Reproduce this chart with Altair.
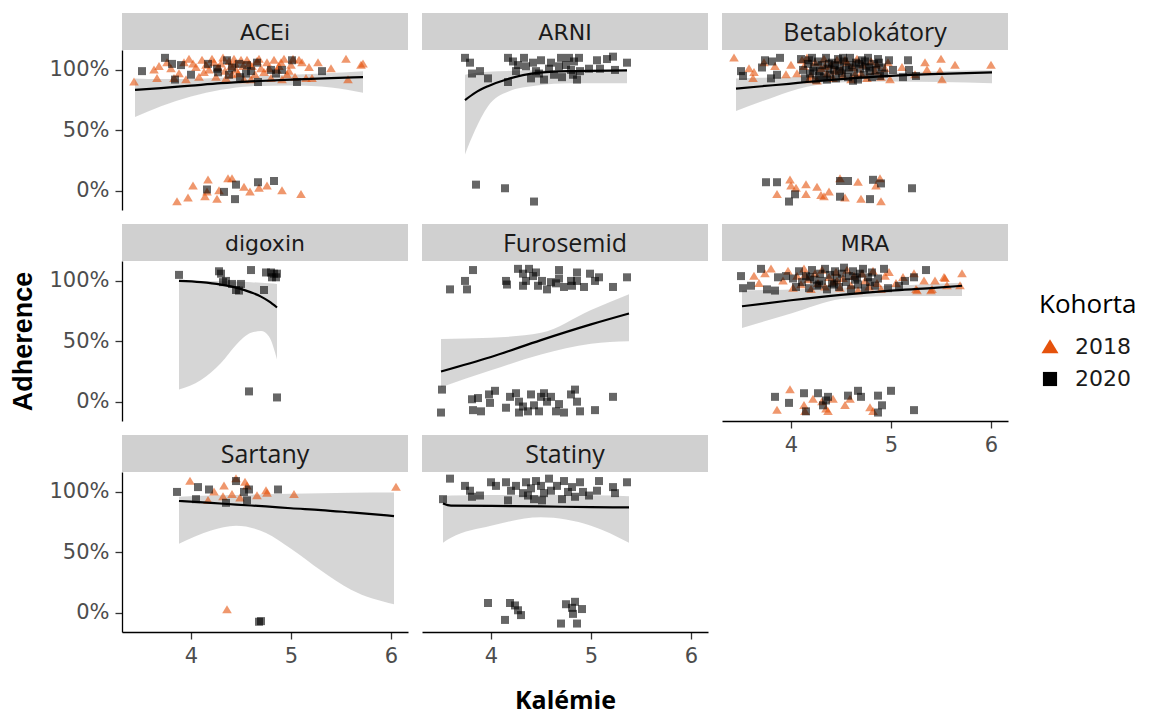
import altair as alt
import pandas as pd

# ---- data: (kalemie, adherence) pairs per drug group and cohort ----
ACEI_2018 = [
    (3.43, 0.90), (3.63, 1.00), (3.66, 0.93), (3.68, 1.03), (3.76, 1.06), (3.83, 0.93), (3.88, 0.97),
    (3.93, 1.06), (3.95, 0.92), (3.98, 1.09), (4.05, 1.02), (4.08, 0.94), (4.11, 1.08), (4.15, 1.04),
    (4.18, 1.00), (4.21, 1.09), (4.25, 0.94), (4.30, 1.05), (4.32, 1.10), (4.35, 0.93), (4.40, 1.03),
    (4.41, 0.96), (4.43, 1.09), (4.45, 1.00), (4.50, 1.08), (4.53, 0.92), (4.56, 1.08), (4.60, 0.92),
    (4.61, 1.03), (4.64, 0.96), (4.68, 1.09), (4.73, 0.98), (4.76, 1.06), (4.80, 0.93), (4.83, 1.08),
    (4.88, 1.03), (4.91, 0.92), (4.93, 1.09), (4.96, 0.96), (5.00, 1.04), (5.04, 0.94), (5.08, 1.08),
    (5.11, 1.06), (5.15, 0.93), (5.21, 0.93), (5.27, 1.06), (5.40, 1.01), (5.55, 1.09), (5.57, 0.92),
    (5.70, 1.04), (5.72, 1.05), (4.02, 1.05), (4.27, 1.02), (4.38, 1.07), (4.47, 0.97), (4.58, 1.05),
    (4.70, 1.01), (4.86, 1.00), (4.98, 0.99), (5.18, 1.02), (4.13, 0.98), (4.23, 1.06), (4.34, 0.99),
    (4.52, 1.03), (4.66, 1.07), (4.78, 1.01), (4.90, 1.06), (5.02, 1.09), (4.44, 1.05), (3.80, 1.01),
    (3.86, -0.09), (3.97, -0.06), (4.02, 0.04), (4.14, -0.05), (4.16, -0.01), (4.17, 0.09),
    (4.26, -0.07), (4.28, 0.00), (4.37, 0.10), (4.41, 0.10), (4.53, 0.03), (4.59, -0.01),
    (4.68, 0.02), (4.76, 0.04), (4.91, 0.00), (5.10, -0.03),
]
ACEI_2020 = [
    (3.51, 0.99), (3.74, 1.10), (3.81, 1.05), (3.90, 1.04), (3.84, 0.92), (4.00, 0.96), (4.17, 1.05),
    (4.26, 1.01), (4.27, 0.98), (4.36, 1.08), (4.38, 0.96), (4.41, 1.02), (4.48, 1.05), (4.49, 0.94),
    (4.55, 0.97), (4.56, 1.04), (4.60, 0.99), (4.66, 1.06), (4.67, 0.90), (4.80, 1.00), (4.85, 0.97),
    (4.91, 1.00), (5.01, 1.08), (5.06, 0.90), (5.31, 0.99),
    (4.16, 0.01), (4.33, -0.01), (4.44, -0.07), (4.45, 0.05), (4.67, 0.07), (4.83, 0.08),
]
ARNI_2018 = []
ARNI_2020 = [
    (3.74, 1.10), (3.79, 1.06), (3.81, 0.97), (3.89, 0.99), (3.97, 0.93), (4.17, 1.10), (4.17, 0.90),
    (4.22, 1.07), (4.25, 0.99), (4.27, 1.04), (4.33, 1.10), (4.35, 1.03), (4.40, 0.93), (4.42, 1.06),
    (4.45, 0.99), (4.48, 0.97), (4.50, 1.08), (4.53, 0.92), (4.58, 1.01), (4.60, 1.06), (4.63, 0.96),
    (4.68, 1.03), (4.70, 1.10), (4.71, 0.94), (4.75, 1.04), (4.78, 1.10), (4.80, 1.00), (4.82, 0.96),
    (4.83, 1.07), (4.86, 0.92), (4.88, 1.10), (4.89, 0.99), (4.98, 1.01), (5.06, 1.08), (5.09, 1.01),
    (5.16, 1.09), (5.22, 1.11), (5.24, 1.00), (5.36, 1.06),
    (3.85, 0.05), (4.14, 0.02), (4.43, -0.09),
]
BETA_2018 = [
    (3.43, 1.10), (3.58, 1.01), (3.62, 0.93), (3.63, 0.98), (3.73, 1.06), (3.84, 1.03), (3.95, 0.96),
    (4.00, 1.04), (4.11, 1.08), (4.18, 0.92), (4.97, 1.06), (4.99, 0.92), (5.11, 1.02), (5.24, 0.96),
    (5.34, 1.06), (5.36, 1.00), (5.50, 1.09), (5.51, 0.92), (5.49, 0.99), (5.64, 1.04), (6.00, 1.04),
    (4.06, 0.97), (4.13, 1.03), (4.16, 1.10), (4.20, 0.95), (4.24, 1.06), (4.26, 0.91), (4.30, 1.01),
    (4.33, 1.09), (4.36, 0.97), (4.40, 1.04), (4.42, 0.93), (4.46, 1.08), (4.50, 1.00), (4.52, 0.95),
    (4.56, 1.06), (4.60, 0.92), (4.62, 1.02), (4.66, 1.09), (4.70, 0.97), (4.72, 1.04), (4.76, 0.93),
    (4.80, 1.07), (4.84, 0.99), (4.86, 1.04), (4.90, 0.94), (4.94, 1.01), (4.34, 1.03), (4.54, 1.08),
    (4.64, 0.96), (4.44, 0.99),
    (3.86, -0.03), (3.99, 0.09), (4.00, 0.04), (4.05, 0.02), (4.15, 0.05), (4.15, -0.03), (4.26, 0.03),
    (4.30, -0.04), (4.33, -0.05), (4.38, -0.01), (4.49, 0.10), (4.54, -0.06), (4.67, 0.07), (4.70, -0.07),
    (4.85, 0.04), (4.89, 0.10), (4.90, -0.09),
]
BETA_2020 = [
    (3.50, 0.99), (3.52, 0.95), (3.71, 1.02), (3.74, 1.08), (3.80, 0.93), (3.81, 1.07), (3.86, 0.96),
    (3.89, 1.10), (4.98, 1.08), (5.02, 1.00), (5.12, 0.94), (5.17, 1.08), (5.18, 1.00), (5.25, 0.95),
    (4.10, 1.09), (4.12, 1.00), (4.14, 0.93), (4.17, 1.05), (4.19, 0.97), (4.21, 1.10), (4.23, 1.02),
    (4.25, 0.92), (4.27, 1.07), (4.29, 0.99), (4.31, 1.04), (4.33, 0.94), (4.35, 1.10), (4.37, 1.01),
    (4.39, 0.96), (4.41, 1.06), (4.43, 1.00), (4.45, 0.93), (4.47, 1.09), (4.49, 1.03), (4.51, 0.97),
    (4.53, 1.07), (4.55, 1.00), (4.57, 0.94), (4.59, 1.10), (4.61, 1.04), (4.63, 0.98), (4.65, 1.06),
    (4.67, 0.92), (4.69, 1.01), (4.71, 1.08), (4.73, 0.96), (4.75, 1.03), (4.77, 1.10), (4.79, 0.99),
    (4.81, 0.94), (4.83, 1.05), (4.85, 1.00), (4.87, 1.09), (4.89, 0.95), (4.91, 1.02), (4.93, 0.97),
    (4.18, 1.08), (4.28, 0.95), (4.38, 1.05), (4.48, 0.99), (4.58, 1.02), (4.68, 1.05), (4.78, 1.02),
    (4.88, 1.06), (4.22, 0.99), (4.44, 1.04), (4.62, 0.91), (4.74, 1.07), (4.52, 1.10), (4.36, 0.92),
    (3.75, 0.07), (3.86, 0.07), (3.98, -0.09), (4.04, -0.03), (4.49, 0.08), (4.57, 0.08), (4.49, -0.05),
    (4.82, 0.09), (4.90, 0.06), (4.79, -0.07), (5.21, 0.02),
]
DIGOXIN_2018 = []
DIGOXIN_2020 = [
    (3.88, 1.05), (4.28, 1.08), (4.30, 1.06), (4.32, 0.99), (4.35, 1.00), (4.41, 0.975), (4.45, 0.925),
    (4.48, 0.92), (4.50, 0.975), (4.60, 1.09), (4.73, 0.925), (4.75, 1.07), (4.80, 1.07), (4.81, 1.03),
    (4.83, 1.06), (4.85, 1.03), (4.86, 1.06), (4.58, 0.085), (4.86, 0.035),
]
FUROSEMID_2018 = []
FUROSEMID_2020 = [
    (3.82, 1.09), (3.59, 0.93), (3.74, 1.00), (3.76, 0.93), (4.15, 1.00), (4.16, 0.97), (4.27, 1.10),
    (4.32, 1.06), (4.38, 1.10), (4.35, 1.00), (4.42, 1.04), (4.47, 0.96), (4.51, 1.00), (4.56, 0.93),
    (4.60, 0.99), (4.68, 1.09), (4.68, 1.02), (4.73, 0.95), (4.80, 1.00), (4.86, 1.07), (4.86, 1.00),
    (4.93, 0.95), (4.99, 1.06), (5.04, 1.00), (5.08, 1.03), (5.22, 0.95), (5.36, 1.03), (4.45, 1.07),
    (4.32, 0.96), (4.81, 0.96), (4.65, 0.98),
    (3.51, 0.10), (3.50, -0.09), (3.81, 0.02), (3.82, -0.07), (3.87, 0.03), (3.90, -0.08), (3.99, -0.01),
    (3.98, 0.06), (4.04, 0.09), (4.15, -0.05), (4.19, 0.04), (4.25, 0.07), (4.28, 0.00), (4.32, -0.04),
    (4.37, -0.08), (4.40, 0.06), (4.43, -0.03), (4.48, -0.08), (4.53, 0.07), (4.56, 0.00), (4.60, 0.04),
    (4.65, -0.08), (4.68, -0.02), (4.73, -0.09), (4.80, 0.06), (4.84, 0.10), (4.86, 0.00), (4.89, -0.08),
    (5.04, -0.07), (5.22, 0.04), (4.28, -0.09), (4.50, 0.04),
]
MRA_2018 = [
    (3.63, 1.04), (3.80, 1.10), (3.68, 0.98), (3.74, 1.06), (5.12, 1.03), (5.23, 1.06), (5.40, 0.92),
    (5.44, 1.00), (5.53, 1.03), (5.56, 0.96), (5.69, 0.96), (5.71, 1.06), (5.26, 0.92), (5.54, 1.02),
    (5.41, 0.93), (5.25, 0.93), (5.33, 1.00), (5.05, 0.98), (4.98, 1.07),
    (3.92, 1.00), (3.97, 1.08), (4.02, 0.94), (4.06, 1.04), (4.10, 0.97), (4.13, 1.10), (4.17, 1.01),
    (4.20, 0.93), (4.24, 1.06), (4.27, 0.98), (4.31, 1.09), (4.34, 0.95), (4.38, 1.03), (4.42, 0.99),
    (4.45, 1.07), (4.49, 0.94), (4.52, 1.02), (4.56, 1.09), (4.60, 0.96), (4.63, 1.04), (4.67, 0.92),
    (4.71, 1.06), (4.74, 1.00), (4.78, 0.95), (4.82, 1.08), (4.86, 0.98), (4.90, 0.93), (4.94, 1.04),
    (4.14, 1.05), (4.46, 1.00),
    (3.86, -0.07), (3.99, 0.10), (4.13, -0.03), (4.14, -0.08), (4.22, 0.02), (4.31, 0.00), (4.37, -0.08),
    (4.42, 0.02), (4.54, -0.03), (4.59, 0.02), (4.79, -0.05), (4.82, -0.08), (4.35, -0.06),
]
MRA_2020 = [
    (3.50, 1.04), (3.52, 0.94), (3.60, 0.96), (3.70, 1.10), (3.76, 0.93), (3.84, 0.92), (3.87, 1.03),
    (3.95, 1.04), (4.87, 1.02), (4.93, 1.10), (4.97, 0.94), (5.08, 0.96), (5.14, 1.00), (5.23, 1.03),
    (5.35, 1.09),
    (4.02, 1.02), (4.05, 0.95), (4.08, 1.08), (4.11, 0.99), (4.15, 1.04), (4.18, 0.94), (4.21, 1.09),
    (4.23, 1.01), (4.26, 0.96), (4.29, 1.06), (4.31, 1.00), (4.34, 1.10), (4.36, 0.93), (4.39, 1.05),
    (4.41, 0.98), (4.44, 1.08), (4.46, 1.02), (4.48, 0.95), (4.51, 1.06), (4.53, 1.11), (4.55, 0.99),
    (4.58, 1.04), (4.60, 0.93), (4.62, 1.08), (4.64, 1.01), (4.67, 0.97), (4.69, 1.06), (4.72, 1.10),
    (4.74, 0.94), (4.77, 1.03), (4.79, 0.99), (4.81, 1.07), (4.84, 0.96), (4.19, 1.03), (4.43, 0.97),
    (4.66, 1.03), (4.28, 0.97),
    (3.84, 0.04), (3.98, -0.01), (4.13, 0.07), (4.15, -0.08), (4.27, 0.07), (4.32, -0.03), (4.37, 0.04),
    (4.57, 0.05), (4.67, 0.09), (4.70, 0.04), (4.87, 0.05), (4.91, -0.03), (4.87, -0.09), (5.00, 0.09),
    (5.23, -0.07), (4.35, 0.01),
]
SARTANY_2018 = [
    (3.99, 1.09), (4.17, 0.93), (4.23, 1.00), (4.32, 0.96), (4.33, 1.05), (4.41, 0.98), (4.45, 1.11),
    (4.49, 0.95), (4.54, 1.08), (4.56, 1.05), (4.66, 0.97), (4.75, 1.01), (4.76, 0.99), (5.03, 0.98),
    (6.05, 1.04), (4.36, 0.025),
]
SARTANY_2020 = [
    (3.86, 1.00), (4.07, 1.04), (4.18, 1.02), (4.05, 0.94), (4.45, 1.09), (4.53, 1.00), (4.58, 1.02),
    (4.56, 0.93), (4.87, 1.02), (4.35, 0.91), (4.70, -0.07), (4.68, -0.075),
]
STATINY_2018 = []
STATINY_2020 = [
    (3.52, 0.94), (3.59, 1.11), (3.74, 1.05), (3.79, 1.01), (3.81, 0.96), (3.89, 0.97), (4.00, 1.08),
    (4.05, 1.05), (4.15, 1.08), (4.17, 0.93), (4.20, 1.01), (4.25, 1.05), (4.32, 0.99), (4.35, 1.08),
    (4.40, 1.03), (4.43, 0.94), (4.45, 1.09), (4.50, 1.05), (4.53, 0.99), (4.58, 1.11), (4.60, 1.01),
    (4.66, 1.05), (4.71, 0.94), (4.73, 1.09), (4.77, 1.00), (4.81, 1.04), (4.84, 0.96), (4.89, 1.08),
    (4.92, 1.00), (4.98, 0.97), (5.06, 1.01), (5.08, 1.09), (5.22, 1.04), (5.24, 0.99), (5.36, 1.08),
    (4.51, 0.93), (4.37, 0.97),
    (3.97, 0.08), (4.19, 0.08), (4.24, 0.06), (4.27, 0.02), (4.30, -0.02), (4.14, -0.06), (4.75, 0.07),
    (4.84, 0.09), (4.81, 0.04), (4.82, -0.01), (4.91, 0.03), (4.70, -0.09), (4.86, -0.09),
]

# ---- logistic fit with 95 % band: (kalemie, fit, lower, upper) ----
ACEI_SMOOTH = [(3.44, 0.835, 0.61, 0.93), (3.70, 0.85, 0.70, 0.925), (4.00, 0.87, 0.78, 0.925),
               (4.30, 0.89, 0.835, 0.935), (4.60, 0.905, 0.865, 0.945), (5.00, 0.92, 0.87, 0.96),
               (5.40, 0.932, 0.855, 0.975), (5.72, 0.94, 0.81, 0.99)]
ARNI_SMOOTH = [(3.74, 0.75, 0.30, 0.96), (3.84, 0.81, 0.50, 0.975), (3.97, 0.865, 0.70, 0.985),
               (4.17, 0.925, 0.82, 0.992), (4.46, 0.975, 0.87, 0.997), (4.80, 0.99, 0.89, 0.999),
               (5.36, 0.997, 0.89, 1.0)]
BETA_SMOOTH = [(3.45, 0.845, 0.66, 0.93), (3.71, 0.865, 0.74, 0.935), (3.98, 0.885, 0.82, 0.94),
               (4.16, 0.90, 0.86, 0.945), (4.60, 0.93, 0.90, 0.955), (5.00, 0.95, 0.905, 0.975),
               (5.50, 0.967, 0.90, 0.99), (6.01, 0.98, 0.89, 0.997)]
DIGOXIN_SMOOTH = [(3.88, 1.00, 0.10, 1.0), (4.10, 0.99, 0.18, 0.999), (4.30, 0.97, 0.32, 0.997),
                  (4.45, 0.945, 0.47, 0.995), (4.60, 0.905, 0.57, 0.99), (4.70, 0.87, 0.585, 0.985),
                  (4.78, 0.83, 0.54, 0.98), (4.86, 0.78, 0.35, 0.975)]
FUROSEMID_SMOOTH = [(3.50, 0.25, 0.12, 0.52), (4.00, 0.37, 0.26, 0.53), (4.50, 0.51, 0.39, 0.57),
                    (5.00, 0.64, 0.48, 0.76), (5.38, 0.73, 0.50, 0.89)]
MRA_SMOOTH = [(3.51, 0.79, 0.61, 0.92), (4.00, 0.84, 0.73, 0.93), (4.50, 0.885, 0.85, 0.945),
              (5.00, 0.92, 0.875, 0.96), (5.40, 0.94, 0.875, 0.975), (5.71, 0.96, 0.875, 0.985)]
SARTANY_SMOOTH = [(3.88, 0.925, 0.57, 0.96), (4.20, 0.91, 0.68, 0.97), (4.45, 0.895, 0.72, 0.975),
                  (4.75, 0.88, 0.66, 0.98), (5.00, 0.865, 0.53, 0.985), (5.30, 0.85, 0.35, 0.99),
                  (5.60, 0.83, 0.19, 0.993), (6.03, 0.80, 0.07, 0.995)]
STATINY_SMOOTH = [(3.52, 0.905, 0.58, 0.965), (3.60, 0.887, 0.62, 0.97), (4.00, 0.884, 0.72, 0.975),
                  (4.50, 0.88, 0.79, 0.975), (5.00, 0.874, 0.72, 0.972), (5.38, 0.872, 0.58, 0.965)]

PANELS = [
    ("ACEi", ACEI_2018, ACEI_2020, ACEI_SMOOTH),
    ("ARNI", ARNI_2018, ARNI_2020, ARNI_SMOOTH),
    ("Betablokátory", BETA_2018, BETA_2020, BETA_SMOOTH),
    ("digoxin", DIGOXIN_2018, DIGOXIN_2020, DIGOXIN_SMOOTH),
    ("Furosemid", FUROSEMID_2018, FUROSEMID_2020, FUROSEMID_SMOOTH),
    ("MRA", MRA_2018, MRA_2020, MRA_SMOOTH),
    ("Sartany", SARTANY_2018, SARTANY_2020, SARTANY_SMOOTH),
    ("Statiny", STATINY_2018, STATINY_2020, STATINY_SMOOTH),
]
COHORTS = ["2018", "2020"]
Y_TICKS = [0, 0.5, 1]
X_TICKS = [4, 5, 6]

# ---- styling ----
PW, PH = 286, 160          # panel plot area
STRIP_H = 37               # facet strip height
GAP = 14                   # gap between panel rows
ORANGE = "#E5520C"
STRIP_FILL = "#D0D0D0"
TICK_FONT = "DejaVu Sans"
CALIBRI_LIKE = {"Betablokátory", "Furosemid", "Sartany", "Statiny"}
# wide triangle and plain square as symbol paths (unit coordinates)
TRIANGLE = "M0,-1.1L1.2,0.9L-1.2,0.9Z"
SQUARE = "M-1,-1H1V1H-1Z"

x_scale = alt.Scale(domain=[3.31, 6.17], nice=False, zero=False)
y_scale = alt.Scale(domain=[-0.16, 1.165], nice=False, zero=False)
color_scale = alt.Scale(domain=COHORTS, range=[ORANGE, "#000000"])
shape_scale = alt.Scale(domain=COHORTS, range=[TRIANGLE, SQUARE])


def strip(label, top_gap):
    df = pd.DataFrame({"label": [label]})
    h = STRIP_H + top_gap
    font = "Open Sans" if label in CALIBRI_LIKE else TICK_FONT
    size = 25 if label in CALIBRI_LIKE else 22
    rect = alt.Chart(df).mark_rect(color=STRIP_FILL).encode(
        x=alt.value(0), x2=alt.value(PW), y=alt.value(top_gap), y2=alt.value(h)
    )
    txt = alt.Chart(df).mark_text(
        font=font, fontSize=size, color="#1A1A1A", baseline="middle", align="center"
    ).encode(text="label:N", x=alt.value(PW / 2), y=alt.value(top_gap + STRIP_H / 2 + 1))
    return alt.layer(rect, txt).properties(width=PW, height=h)


def blank(h):
    df = pd.DataFrame({"v": [0]})
    return alt.Chart(df).mark_rect(opacity=0).encode(
        x=alt.value(0), x2=alt.value(1), y=alt.value(0), y2=alt.value(1)
    ).properties(width=PW, height=h)


def plot(p18, p20, smooth, y_axis, x_axis):
    pts = pd.DataFrame(
        [(k, a, "2018") for k, a in p18] + [(k, a, "2020") for k, a in p20],
        columns=["K", "A", "Kohorta"],
    )
    sm = pd.DataFrame(smooth, columns=["K", "fit", "lo", "hi"])
    x = alt.X("K:Q", scale=x_scale, axis=x_axis)
    band = alt.Chart(sm).mark_area(color="#999999", opacity=0.4, interpolate="monotone").encode(
        x=x, y=alt.Y("lo:Q", scale=y_scale, axis=y_axis), y2="hi:Q"
    )
    legend = alt.Legend(title="Kohorta", symbolOpacity=1, symbolSize=200)
    dots = alt.Chart(pts).mark_point(filled=True, opacity=0.6, strokeWidth=0, size=64).encode(
        x=x,
        y=alt.Y("A:Q", scale=y_scale, axis=y_axis),
        color=alt.Color("Kohorta:N", scale=color_scale, legend=legend),
        shape=alt.Shape("Kohorta:N", scale=shape_scale, legend=legend),
    )
    line = alt.Chart(sm).mark_line(color="black", strokeWidth=2.2, interpolate="monotone").encode(
        x=x, y=alt.Y("fit:Q", scale=y_scale, axis=y_axis)
    )
    return alt.layer(band, dots, line).properties(width=PW, height=PH)


def y_axis_for(title):
    kw = dict(values=Y_TICKS, format=".0%", tickSize=7, labelPadding=6, grid=False)
    if title:
        kw.update(title=title, titleFont="Liberation Sans", titleFontSize=27, titleFontWeight="bold",
                  titleColor="#000000", titlePadding=11)
    else:
        kw.update(title=None)
    return alt.Axis(**kw)


def x_axis_for(title):
    kw = dict(values=X_TICKS, format="d", tickSize=7, labelPadding=6, grid=False)
    if title:
        kw.update(title=title, titleFont="Open Sans", titleFontSize=25, titleFontWeight="bold",
                  titleColor="#000000", titlePadding=22)
    else:
        kw.update(title=None)
    return alt.Axis(**kw)


# panels with axes, in facet_wrap order (3 columns)
AXES = {
    "ACEi": (y_axis_for(None), None),
    "ARNI": (None, None),
    "Betablokátory": (None, None),
    "digoxin": (y_axis_for("Adherence"), None),
    "Furosemid": (None, None),
    "MRA": (None, x_axis_for(None)),
    "Sartany": (y_axis_for(None), x_axis_for(None)),
    "Statiny": (None, x_axis_for("Kalémie")),
}

cells = []
for row in range(3):
    group = PANELS[row * 3:row * 3 + 3]
    gap = 0 if row == 0 else GAP
    for name, *_ in group:
        cells.append(strip(name, gap))
    if len(group) < 3:
        cells.append(blank(STRIP_H + gap))
    for name, p18, p20, sm in group:
        ya, xa = AXES[name]
        cells.append(plot(p18, p20, sm, ya, xa))

chart = alt.concat(
    *cells, columns=3, spacing={"row": 0, "column": 14}, bounds="flush"
).properties(
    padding={"left": 9, "top": 13, "right": 5, "bottom": 5}
).configure_view(
    stroke=None
).configure_axis(
    domainColor="#000000", domainWidth=1.3, tickColor="#333333", tickWidth=1.3,
    labelFont=TICK_FONT, labelFontSize=21, labelColor="#4D4D4D",
).configure_legend(
    orient="none", legendX=917, legendY=279,
    titleFont="Open Sans", titleFontSize=26, titleFontWeight="normal", titleColor="#000000",
    titlePadding=18, labelFont=TICK_FONT, labelFontSize=22, labelColor="#1A1A1A",
    labelOffset=14, rowPadding=10,
)

chart.save("out.html", embed_options={"renderer": "svg", "actions": False})
